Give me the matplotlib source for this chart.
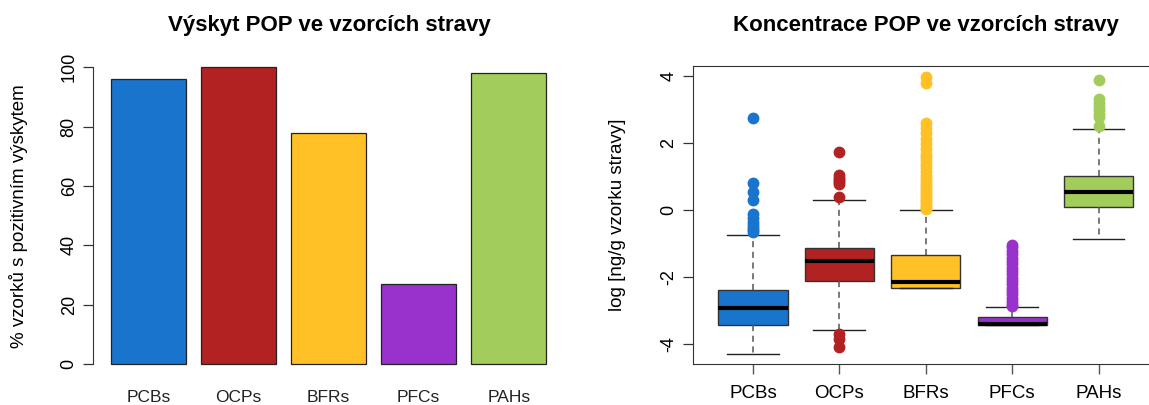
import numpy as np
import matplotlib
matplotlib.use("Agg")
from matplotlib import pyplot as plt

plt.rcParams['font.family'] = ['Liberation Sans', 'DejaVu Sans']
plt.rcParams['axes.unicode_minus'] = False

# groups and colours
groups = ["PCBs", "OCPs", "BFRs", "PFCs", "PAHs"]
colors = ["#1874CD", "#B22222", "#FFC125", "#9932CC", "#A2CD5A"]

# % of samples with positive occurrence
positive = [96, 100, 78, 27, 98]

# box statistics, log concentration
q1 = [-3.45, -2.12, -2.32, -3.45, 0.09]
med = [-2.93, -1.53, -2.14, -3.41, 0.55]
q3 = [-2.38, -1.13, -1.34, -3.20, 1.01]
whislo = [-4.30, -3.57, -2.34, -3.45, -0.86]
whishi = [-0.75, 0.30, 0.00, -2.90, 2.41]

out_pcbs = [2.74, 0.81, 0.55, 0.30, -0.13, -0.25, -0.37, -0.46, -0.55, -0.60, -0.65]
out_ocps = [1.74, 1.04, 0.95, 0.90, 0.84, 0.78, 0.38, -3.71, -3.86, -4.10]
out_bfrs = [3.98, 3.78, 2.59, 2.45, 2.29, 2.12, 1.97, 1.82, 1.67, 1.58, 1.49,
            1.38, 1.29, 1.16, 1.04, 0.95, 0.86, 0.78, 0.70, 0.62, 0.55, 0.47,
            0.40, 0.33, 0.26, 0.19, 0.12, 0.06, 0.02]
out_pfcs = [-1.04, -1.12, -1.22, -1.32, -1.42, -1.52, -1.62, -1.72, -1.82,
            -1.92, -2.02, -2.12, -2.22, -2.32, -2.42, -2.52, -2.62, -2.72,
            -2.80, -2.87]
out_pahs = [3.88, 3.30, 3.19, 3.08, 2.98, 2.88, 2.79, 2.51]
outliers = [out_pcbs, out_ocps, out_bfrs, out_pfcs, out_pahs]

W, H = 1149, 405
fig = plt.figure(figsize=(W / 100, H / 100), dpi=100)

def px_axes(left, right, top, bottom):
    return fig.add_axes([left / W, 1 - bottom / H, (right - left) / W, (bottom - top) / H])

# --- bar chart ---
ax1 = px_axes(93, 565, 55.4, 375.9)
xb = 0.7 + 1.2 * np.arange(len(groups))
ax1.bar(xb, positive, width=1.0, color=colors, edgecolor="#222222", linewidth=0.9)
ax1.set_xlim(-0.04, 6.25)
ax1.set_ylim(-4, 104)
ax1.set_xticks(xb)
ax1.set_xticklabels(groups, fontsize=12.5, color="#222222")
ax1.tick_params(axis="x", length=0, pad=10)
ax1.set_yticks([0, 20, 40, 60, 80, 100])
ax1.tick_params(axis="y", length=7, width=0.9, color="#333333", pad=4, labelsize=13)
for t in ax1.get_yticklabels():
    t.set_rotation(90)
    t.set_va("center")
for s in ["top", "right", "bottom"]:
    ax1.spines[s].set_visible(False)
ax1.spines["left"].set_bounds(0, 100)
ax1.spines["left"].set_color("#333333")
ax1.set_ylabel("% vzorků s pozitivním výskytem", fontsize=13.5)
ax1.yaxis.set_label_coords((28 - 93) / 472, 0.5)
fig.text(329 / W, 1 - 25 / H, "Výskyt POP ve vzorcích stravy",
         fontsize=16, fontweight="bold", ha="center", va="center")

# --- box plot ---
ax2 = px_axes(692.5, 1159, 66, 364)
stats = []
for i, g in enumerate(groups):
    stats.append(dict(label=g, q1=q1[i], med=med[i], q3=q3[i],
                      whislo=whislo[i], whishi=whishi[i], fliers=outliers[i]))
pos = np.arange(1, len(groups) + 1)
bp = ax2.bxp(stats, positions=pos, widths=0.8, patch_artist=True,
             boxprops=dict(edgecolor="#333333", linewidth=1.0),
             medianprops=dict(color="black", linewidth=3),
             whiskerprops=dict(color="#555555", linestyle=(0, (4, 3)), linewidth=1.1),
             capprops=dict(color="#222222", linewidth=1.0),
             flierprops=dict(marker="o", markersize=7.5, linestyle="none"))
ax2.set_xticks(pos)
for patch, fl, c in zip(bp["boxes"], bp["fliers"], colors):
    patch.set_facecolor(c)
    fl.set_markerfacecolor(c)
    fl.set_markeredgecolor(c)
for cap in bp["caps"]:
    m = cap.get_xdata().mean()
    cap.set_xdata([m - 0.3, m + 0.3])
ax2.set_xlim(0.3, 5.7)
ax2.set_ylim(-4.6, 4.3)
ax2.set_yticks([-4, -2, 0, 2, 4])
ax2.set_xticklabels(groups, fontsize=13.5)
ax2.tick_params(axis="x", length=7, width=1.0, color="#555555", pad=8)
ax2.tick_params(axis="y", length=7, width=0.9, color="#333333", pad=4, labelsize=13)
for t in ax2.get_yticklabels():
    t.set_rotation(90)
    t.set_va("center")
for s in ax2.spines.values():
    s.set_color("#333333")
ax2.set_ylabel("log [ng/g vzorku stravy]", fontsize=13.5)
ax2.yaxis.set_label_coords((626 - 692.5) / 466.5, 0.5)
fig.text(926 / W, 1 - 25 / H, "Koncentrace POP ve vzorcích stravy",
         fontsize=16, fontweight="bold", ha="center", va="center")

fig.savefig("out.png", dpi=100)
